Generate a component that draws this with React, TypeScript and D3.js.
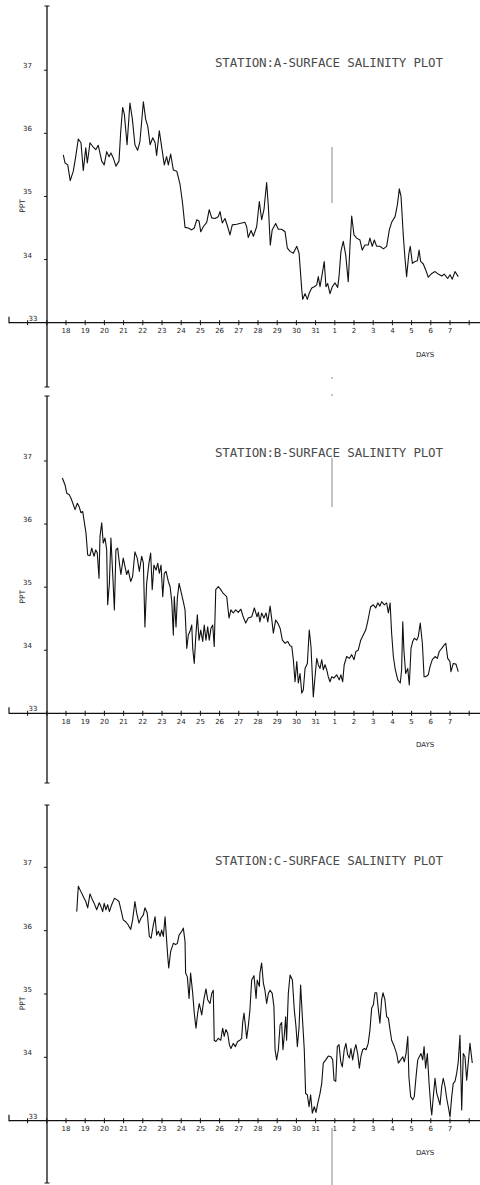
import React from "react";
import * as d3 from "d3";

// Day labels along the time axis (index 0 = day 18)
const dayLabels = ["18","19","20","21","22","23","24","25","26","27","28","29","30","31","1","2","3","4","5","6","7"];
const yTickValues = [33, 34, 35, 36, 37];
const stationTitles = [
  "STATION:A-SURFACE SALINITY PLOT",
  "STATION:B-SURFACE SALINITY PLOT",
  "STATION:C-SURFACE SALINITY PLOT",
];

// [day offset from 18th, salinity ppt]
const stationA: [number, number][] = [
  [-0.14,35.66],[-0.05,35.53],[0.09,35.50],[0.22,35.25],[0.38,35.40],[0.51,35.64],[0.64,35.91],[0.78,35.85],[0.90,35.41],[1.03,35.77],[1.11,35.53],[1.25,35.85],[1.42,35.78],[1.55,35.74],[1.68,35.81],[1.86,35.56],[1.99,35.50],[2.12,35.71],[2.24,35.63],[2.34,35.69],[2.46,35.61],[2.60,35.48],[2.76,35.56],[2.85,36.03],[2.95,36.41],[3.04,36.30],[3.18,35.82],[3.33,36.48],[3.45,36.24],[3.59,35.82],[3.73,35.73],[3.85,35.87],[4.03,36.50],[4.15,36.22],[4.26,36.11],[4.38,35.82],[4.52,35.93],[4.64,35.85],[4.72,35.65],[4.86,36.04],[4.98,35.79],[5.12,35.50],[5.24,35.63],[5.33,35.50],[5.45,35.67],[5.59,35.42],[5.77,35.40],[5.94,35.19],[6.06,34.92],[6.20,34.51],[6.37,34.50],[6.55,34.47],[6.68,34.50],[6.81,34.63],[6.93,34.61],[7.02,34.44],[7.15,34.52],[7.33,34.59],[7.46,34.79],[7.59,34.66],[7.76,34.65],[7.93,34.68],[8.02,34.76],[8.14,34.58],[8.28,34.65],[8.42,34.52],[8.54,34.39],[8.66,34.55],[8.89,34.56],[9.32,34.59],[9.41,34.52],[9.49,34.35],[9.64,34.46],[9.76,34.37],[9.93,34.52],[10.07,34.92],[10.19,34.63],[10.31,34.79],[10.45,35.22],[10.54,34.84],[10.64,34.23],[10.74,34.47],[10.92,34.57],[11.06,34.48],[11.23,34.48],[11.41,34.44],[11.53,34.18],[11.67,34.13],[11.84,34.10],[12.02,34.21],[12.14,34.10],[12.28,33.52],[12.33,33.37],[12.45,33.46],[12.57,33.37],[12.67,33.47],[12.80,33.55],[12.93,33.57],[13.06,33.60],[13.14,33.73],[13.23,33.57],[13.35,33.78],[13.45,33.97],[13.54,33.57],[13.63,33.62],[13.75,33.46],[13.87,33.57],[14.01,33.63],[14.15,33.56],[14.22,33.73],[14.32,34.13],[14.44,34.29],[14.57,34.07],[14.70,33.65],[14.79,34.21],[14.88,34.69],[15.00,34.39],[15.14,34.34],[15.31,34.31],[15.43,34.15],[15.57,34.23],[15.74,34.23],[15.83,34.34],[15.95,34.21],[16.06,34.31],[16.18,34.21],[16.35,34.21],[16.53,34.17],[16.70,34.21],[16.84,34.47],[16.96,34.59],[17.14,34.68],[17.26,34.87],[17.36,35.12],[17.45,35.00],[17.57,34.37],[17.66,34.00],[17.74,33.73],[17.86,34.10],[17.93,34.21],[18.04,33.94],[18.18,33.97],[18.30,33.98],[18.39,34.15],[18.47,33.97],[18.61,33.93],[18.73,33.84],[18.87,33.72],[19.05,33.78],[19.22,33.81],[19.39,33.77],[19.57,33.74],[19.70,33.77],[19.88,33.70],[20.00,33.76],[20.12,33.69],[20.26,33.81],[20.43,33.73],
];

const stationB: [number, number][] = [
  [-0.19,36.73],[-0.05,36.62],[0.04,36.49],[0.16,36.47],[0.26,36.41],[0.38,36.31],[0.47,36.23],[0.59,36.33],[0.68,36.28],[0.78,36.18],[0.87,36.20],[0.95,36.04],[1.04,35.86],[1.13,35.51],[1.25,35.50],[1.34,35.62],[1.46,35.49],[1.55,35.59],[1.63,35.54],[1.72,35.14],[1.77,35.80],[1.86,36.02],[1.94,35.70],[2.03,35.78],[2.12,35.59],[2.17,34.72],[2.26,35.06],[2.34,35.78],[2.43,35.22],[2.52,34.64],[2.60,35.59],[2.69,35.62],[2.78,35.38],[2.86,35.20],[2.98,35.46],[3.07,35.33],[3.16,35.20],[3.24,35.27],[3.37,35.09],[3.47,35.17],[3.59,35.56],[3.71,35.46],[3.82,35.25],[3.94,35.49],[4.03,35.38],[4.11,34.37],[4.20,35.06],[4.32,35.38],[4.41,35.54],[4.49,34.96],[4.58,35.35],[4.69,35.27],[4.78,35.38],[4.86,35.22],[4.95,35.35],[5.04,34.85],[5.12,35.22],[5.21,35.25],[5.33,35.09],[5.42,35.01],[5.51,34.77],[5.59,34.24],[5.64,34.85],[5.73,34.37],[5.80,34.83],[5.89,35.06],[5.99,34.93],[6.11,34.77],[6.20,34.64],[6.29,34.03],[6.37,34.24],[6.46,34.30],[6.55,34.40],[6.60,34.03],[6.68,33.79],[6.76,34.22],[6.84,34.56],[6.93,34.16],[7.02,34.32],[7.12,34.14],[7.20,34.40],[7.29,34.16],[7.38,34.37],[7.46,34.16],[7.55,34.35],[7.64,34.40],[7.72,34.06],[7.80,34.96],[7.93,35.01],[8.06,34.96],[8.19,34.90],[8.37,34.85],[8.49,34.51],[8.59,34.64],[8.71,34.59],[8.84,34.64],[8.97,34.60],[9.11,34.65],[9.23,34.53],[9.36,34.43],[9.49,34.51],[9.67,34.53],[9.81,34.67],[9.95,34.53],[10.02,34.60],[10.10,34.45],[10.19,34.59],[10.31,34.51],[10.42,34.59],[10.51,34.45],[10.63,34.70],[10.71,34.51],[10.80,34.27],[10.92,34.48],[11.03,34.43],[11.15,34.35],[11.27,34.16],[11.41,34.11],[11.55,34.14],[11.67,34.07],[11.76,34.06],[11.84,33.85],[11.93,33.50],[12.02,33.82],[12.10,33.48],[12.19,33.63],[12.28,33.32],[12.36,33.37],[12.45,33.71],[12.57,33.79],[12.67,34.32],[12.76,34.06],[12.88,33.26],[12.97,33.58],[13.06,33.87],[13.14,33.77],[13.23,33.71],[13.32,33.85],[13.40,33.69],[13.49,33.77],[13.58,33.69],[13.66,33.58],[13.75,33.50],[13.84,33.58],[13.96,33.56],[14.10,33.61],[14.23,33.53],[14.32,33.61],[14.41,33.50],[14.49,33.77],[14.62,33.90],[14.76,33.87],[14.88,33.93],[15.00,33.85],[15.10,33.98],[15.22,34.00],[15.35,34.16],[15.48,34.24],[15.61,34.32],[15.71,34.45],[15.80,34.59],[15.87,34.69],[16.01,34.72],[16.13,34.67],[16.24,34.75],[16.35,34.70],[16.44,34.77],[16.58,34.72],[16.70,34.75],[16.79,34.59],[16.88,34.75],[16.96,34.27],[17.05,33.90],[17.14,33.71],[17.28,33.53],[17.41,33.48],[17.48,33.69],[17.54,34.45],[17.60,34.00],[17.69,33.63],[17.80,33.71],[17.88,33.45],[17.97,34.03],[18.06,34.14],[18.14,34.19],[18.27,34.16],[18.35,34.22],[18.45,34.43],[18.56,34.11],[18.65,33.58],[18.73,33.58],[18.87,33.61],[18.96,33.74],[19.08,33.85],[19.22,33.90],[19.34,33.87],[19.44,33.98],[19.57,34.03],[19.69,34.08],[19.78,34.11],[19.88,33.87],[20.00,33.82],[20.05,33.66],[20.17,33.79],[20.31,33.78],[20.43,33.66],
];

const stationC: [number, number][] = [
  [0.56,36.30],[0.64,36.70],[0.77,36.62],[0.90,36.54],[1.03,36.46],[1.13,36.36],[1.25,36.58],[1.37,36.49],[1.47,36.43],[1.60,36.33],[1.73,36.44],[1.82,36.38],[1.91,36.30],[1.99,36.43],[2.08,36.33],[2.17,36.41],[2.26,36.30],[2.38,36.41],[2.52,36.51],[2.64,36.49],[2.76,36.46],[2.86,36.33],[2.98,36.17],[3.11,36.14],[3.24,36.09],[3.37,36.02],[3.47,36.17],[3.59,36.46],[3.68,36.28],[3.80,36.12],[3.91,36.20],[4.03,36.25],[4.11,36.36],[4.23,36.28],[4.34,35.91],[4.43,35.88],[4.55,36.09],[4.64,36.22],[4.72,35.93],[4.81,35.99],[4.90,35.91],[4.98,36.01],[5.07,35.91],[5.16,36.22],[5.24,35.85],[5.30,35.59],[5.35,35.41],[5.45,35.67],[5.59,35.80],[5.71,35.78],[5.80,35.80],[5.89,35.93],[6.03,35.99],[6.11,36.04],[6.20,35.83],[6.23,35.33],[6.32,35.27],[6.41,34.93],[6.49,35.33],[6.60,35.01],[6.68,34.70],[6.77,34.46],[6.86,34.70],[6.94,34.85],[7.07,34.67],[7.19,34.93],[7.29,35.08],[7.38,34.91],[7.50,34.85],[7.59,35.01],[7.67,35.06],[7.72,34.27],[7.81,34.25],[7.93,34.30],[8.06,34.27],[8.16,34.46],[8.24,34.33],[8.33,34.44],[8.42,34.38],[8.51,34.20],[8.59,34.14],[8.71,34.22],[8.82,34.17],[8.94,34.25],[9.06,34.27],[9.15,34.30],[9.20,34.54],[9.27,34.70],[9.34,34.51],[9.41,34.30],[9.49,34.48],[9.58,34.75],[9.67,35.22],[9.79,35.29],[9.90,34.93],[9.96,35.22],[10.07,35.12],[10.10,35.33],[10.19,35.49],[10.28,35.17],[10.36,35.06],[10.45,34.85],[10.54,35.01],[10.63,35.06],[10.74,35.01],[10.83,34.80],[10.89,34.12],[10.97,33.96],[11.06,34.12],[11.15,34.51],[11.23,34.55],[11.30,34.12],[11.37,34.35],[11.44,34.64],[11.49,34.27],[11.58,35.01],[11.67,35.30],[11.79,35.22],[11.89,34.75],[11.98,34.48],[12.05,34.17],[12.14,34.48],[12.22,35.14],[12.31,34.64],[12.41,34.12],[12.48,33.43],[12.57,33.41],[12.66,33.22],[12.74,33.41],[12.83,33.12],[12.93,33.22],[13.02,33.13],[13.11,33.27],[13.23,33.43],[13.32,33.59],[13.40,33.91],[13.53,33.96],[13.66,34.02],[13.80,34.01],[13.89,33.96],[13.96,33.64],[14.05,33.62],[14.13,34.17],[14.22,34.20],[14.31,33.93],[14.39,33.85],[14.49,34.12],[14.58,34.22],[14.67,34.04],[14.76,33.99],[14.84,34.14],[14.93,33.96],[15.02,34.12],[15.10,34.20],[15.19,34.06],[15.28,33.83],[15.36,34.01],[15.45,34.12],[15.54,34.14],[15.63,34.12],[15.74,34.22],[15.83,34.43],[15.92,34.78],[16.01,34.83],[16.09,35.02],[16.18,35.02],[16.27,34.75],[16.35,34.54],[16.44,34.91],[16.51,35.02],[16.61,34.91],[16.70,34.64],[16.79,34.62],[16.88,34.43],[16.96,34.27],[17.10,34.17],[17.22,34.06],[17.31,33.91],[17.43,33.96],[17.54,34.01],[17.62,33.93],[17.71,34.06],[17.80,34.33],[17.86,33.69],[17.95,33.38],[18.06,33.33],[18.14,33.38],[18.23,33.69],[18.32,33.96],[18.40,34.01],[18.49,34.06],[18.58,33.96],[18.65,34.17],[18.73,33.83],[18.82,34.06],[18.91,33.59],[19.00,33.22],[19.05,33.09],[19.13,33.38],[19.22,33.67],[19.31,33.43],[19.39,33.35],[19.48,33.25],[19.57,33.54],[19.65,33.67],[19.74,33.54],[19.83,33.35],[19.91,33.22],[20.00,33.06],[20.09,33.38],[20.17,33.59],[20.26,33.62],[20.35,33.75],[20.43,33.93],[20.52,34.35],[20.61,33.17],[20.69,34.06],[20.78,34.01],[20.87,33.64],[21.04,34.22],[21.16,33.91],
];

const seriesList = [stationA, stationB, stationC];

// layout (pixels)
const panelLayout = [
  { y33: 322.7, y37: 70.2, top: 6, bottom: 387, titleY: 66.6 },
  { y33: 713.3, y37: 461.0, top: 396, bottom: 783, titleY: 456.6 },
  { y33: 1120.7, y37: 867.3, top: 805, bottom: 1183, titleY: 864.6 },
];
const seams = [
  { y1: 147, y2: 203 },
  { y1: 377, y2: 379 },
  { y1: 394, y2: 396 },
  { y1: 458, y2: 507 },
  { y1: 1128, y2: 1185 },
];

const AXIS_X = 47;
const x = d3.scaleLinear().domain([0, 20]).range([66, 450]);
const tickFont = "'DejaVu Sans', sans-serif";

function Panel({ idx }: { idx: number }) {
  const L = panelLayout[idx];
  const y = d3.scaleLinear().domain([33, 37]).range([L.y33, L.y37]);
  const line = d3
    .line<[number, number]>()
    .x((d) => x(d[0]))
    .y((d) => y(d[1]));
  const tickIdx = d3.range(-2, 22);
  return (
    <g>
      <line x1={AXIS_X} x2={AXIS_X} y1={L.top} y2={L.bottom} stroke="#111" strokeWidth={1.3} />
      <line x1={AXIS_X - 2.5} x2={AXIS_X + 2.5} y1={L.top} y2={L.top} stroke="#111" strokeWidth={1} />
      <line x1={AXIS_X - 2.5} x2={AXIS_X + 2.5} y1={L.bottom} y2={L.bottom} stroke="#111" strokeWidth={1} />
      <line x1={9} x2={480} y1={L.y33} y2={L.y33} stroke="#111" strokeWidth={1.3} />
      <line x1={9} x2={9} y1={L.y33 - 6} y2={L.y33 + 0.5} stroke="#111" strokeWidth={1.2} />
      {tickIdx.map((i) => (
        <line key={"xt" + i} x1={x(i)} x2={x(i)} y1={L.y33 - 2.5} y2={L.y33 + 2.5} stroke="#111" strokeWidth={1} />
      ))}
      {dayLabels.map((lab, i) => (
        <text key={"xl" + i} x={x(i)} y={L.y33 + 10.5} fontSize={7} fontFamily={tickFont} textAnchor="middle" fill="#222">
          {lab}
        </text>
      ))}
      {yTickValues.map((v) =>
        v === 33 ? null : (
          <line key={"yt" + v} x1={AXIS_X - 3} x2={AXIS_X} y1={y(v)} y2={y(v)} stroke="#111" strokeWidth={1} />
        )
      )}
      {yTickValues.map((v) => (
        <text key={"yl" + v} x={v === 33 ? 37.5 : 32} y={y(v) - 2} fontSize={7} fontFamily={tickFont} textAnchor="end" fill="#222">
          {String(v)}
        </text>
      ))}
      <text transform={`translate(24.5,${y(34.85)}) rotate(-90)`} fontSize={7.5} fontFamily={tickFont} textAnchor="middle" fill="#222">
        PPT
      </text>
      <text x={425} y={L.y33 + 34} fontSize={7} fontFamily={tickFont} textAnchor="middle" fill="#222">
        DAYS
      </text>
      <text x={215} y={L.titleY} fontSize={12.5} fontFamily="'DejaVu Sans Mono', monospace" fill="#4a4a4a" textLength={228} lengthAdjust="spacing">
        {stationTitles[idx]}
      </text>
      <path d={line(seriesList[idx]) || ""} fill="none" stroke="#111" strokeWidth={1.1} strokeLinejoin="round" />
    </g>
  );
}

export default function App() {
  return (
    <svg width={480} height={1185} style={{ position: "absolute", left: 0, top: 0, background: "#fff" }}>
      <rect x={0} y={0} width={480} height={1185} fill="#fff" />
      {[0, 1, 2].map((i) => (
        <Panel key={i} idx={i} />
      ))}
      {seams.map((s, i) => (
        <line key={"s" + i} x1={332} x2={332} y1={s.y1} y2={s.y2} stroke="#888" strokeWidth={1} />
      ))}
    </svg>
  );
}
